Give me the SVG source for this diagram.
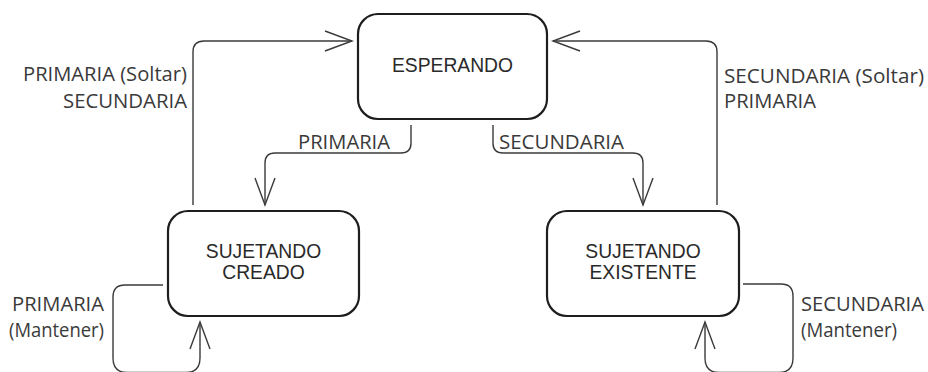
<svg xmlns="http://www.w3.org/2000/svg" width="928" height="372" viewBox="0 0 928 372">
<style>
.node rect{fill:#fff;stroke:#1e1e1e;stroke-width:2.2}
.node text{font-family:"Liberation Sans",Arial,sans-serif;font-size:19.3px;fill:#2a2a2a;text-anchor:middle}
.edge{fill:none;stroke:#3a3a3a;stroke-width:1.4;marker-end:url(#arr)}
.lbl{font-family:"Open Sans","Noto Sans",sans-serif;font-size:20px;fill:#3a3a3a}
</style>
<defs>
<marker id="arr" markerUnits="userSpaceOnUse" viewBox="0 0 30 22" refX="28" refY="11" markerWidth="30" markerHeight="22" orient="auto">
<path d="M1,1 L28,11 L1,21" fill="none" stroke="#3a3a3a" stroke-width="1.4"/>
</marker>
</defs>
<rect width="928" height="372" fill="#fff"/>
<g id="connectors">
<path class="edge" d="M193,205 L193,52 Q193,41 204,41 L352,41"/>
<path class="edge" d="M717,205 L717,52 Q717,41 706,41 L553,41"/>
<path class="edge" d="M411,125 L411,143 Q411,153 401,153 L275,153 Q265,153 265,163 L265,205"/>
<path class="edge" d="M493,125 L493,143 Q493,153 503,153 L633,153 Q643,153 643,163 L643,205"/>
<path class="edge" d="M163,285 L125,285 Q113,285 113,297 L113,358 Q113,372.5 127,372.5 L186,372.5 Q200,372.5 200,358 L200,322"/>
<path class="edge" d="M743,284 L781,284 Q793,284 793,296 L793,358 Q793,372.5 779,372.5 L719,372.5 Q705,372.5 705,358 L705,322"/>
<text class="lbl" x="23" y="81" textLength="164" lengthAdjust="spacingAndGlyphs">PRIMARIA (Soltar)</text>
<text class="lbl" x="63" y="108" textLength="124" lengthAdjust="spacingAndGlyphs">SECUNDARIA</text>
<text class="lbl" x="298" y="149" textLength="92" lengthAdjust="spacingAndGlyphs">PRIMARIA</text>
<text class="lbl" x="499" y="149" textLength="125" lengthAdjust="spacingAndGlyphs">SECUNDARIA</text>
<text class="lbl" x="724" y="83" textLength="200" lengthAdjust="spacingAndGlyphs">SECUNDARIA (Soltar)</text>
<text class="lbl" x="724" y="108" textLength="92" lengthAdjust="spacingAndGlyphs">PRIMARIA</text>
<text class="lbl" x="12" y="311" textLength="92" lengthAdjust="spacingAndGlyphs">PRIMARIA</text>
<text class="lbl" x="9" y="337" textLength="95" lengthAdjust="spacingAndGlyphs">(Mantener)</text>
<text class="lbl" x="801" y="311" textLength="123" lengthAdjust="spacingAndGlyphs">SECUNDARIA</text>
<text class="lbl" x="801" y="337" textLength="96" lengthAdjust="spacingAndGlyphs">(Mantener)</text>
</g>
<g id="esperando" class="node">
<rect x="358" y="14" width="189" height="105" rx="20"/>
<text x="452.5" y="72">ESPERANDO</text>
</g>
<g id="sujetando-creado" class="node">
<rect x="168" y="211" width="191" height="105" rx="20"/>
<text x="263.5" y="258">SUJETANDO</text>
<text x="263.5" y="279">CREADO</text>
</g>
<g id="sujetando-existente" class="node">
<rect x="547" y="211" width="192" height="105" rx="20"/>
<text x="643" y="258">SUJETANDO</text>
<text x="643" y="279">EXISTENTE</text>
</g>
</svg>
